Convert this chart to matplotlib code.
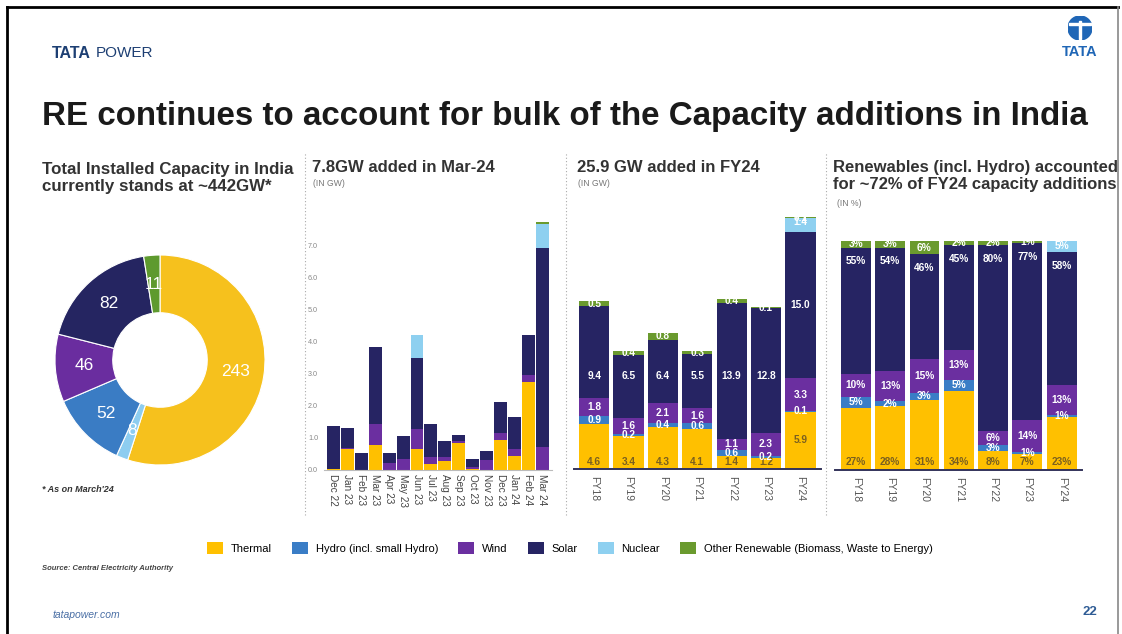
import matplotlib
matplotlib.use("Agg")
import matplotlib.pyplot as plt
from matplotlib.patches import Patch, Circle, Rectangle
from matplotlib.lines import Line2D
import numpy as np

plt.rcParams["font.family"] = ["Liberation Sans", "DejaVu Sans"]

W, H = 1122, 634

SOURCES = ["Thermal", "Hydro (incl. small Hydro)", "Wind", "Solar", "Nuclear",
           "Other Renewable (Biomass, Waste to Energy)"]
COLORS = ["#FFC000", "#3A7DC6", "#6B2FA0", "#262463", "#8ED0F0", "#6A9A2E"]

# installed capacity as on March'24 (GW), clockwise from the top
donut_labels = ["Thermal", "Nuclear", "Hydro", "Wind", "Solar", "Other"]
donut_values = [243, 8, 52, 46, 82, 11]
donut_colors = ["#F6C11D", "#8DCDF0", "#3A7CC4", "#6A2D9F", "#252561", "#5E9A2E"]

# monthly additions (GW)
months = ["Dec 22", "Jan 23", "Feb 23", "Mar 23", "Apr 23", "May 23", "Jun 23", "Jul 23",
          "Aug 23", "Sep 23", "Oct 23", "Nov 23", "Dec 23", "Jan 24", "Feb 24", "Mar 24"]
m_thermal = [0.03, 0.66, 0.0, 0.78, 0.0, 0.0, 0.65, 0.2, 0.29, 0.83, 0.02, 0.0, 0.95, 0.43, 2.76, 0.0]
m_hydro = [0.0] * 16
m_wind = [0.0, 0.02, 0.0, 0.65, 0.22, 0.33, 0.63, 0.2, 0.13, 0.08, 0.08, 0.32, 0.2, 0.22, 0.2, 0.71]
m_solar = [1.34, 0.62, 0.52, 2.4, 0.3, 0.73, 2.23, 1.04, 0.5, 0.18, 0.23, 0.27, 0.98, 0.99, 1.25, 6.21]
m_nuclear = [0.0, 0.0, 0.0, 0.0, 0.0, 0.0, 0.7, 0.0, 0.0, 0.0, 0.0, 0.0, 0.0, 0.0, 0.0, 0.75]
m_other = [0.0] * 15 + [0.08]

# yearly additions (GW)
years = ["FY18", "FY19", "FY20", "FY21", "FY22", "FY23", "FY24"]
y_thermal = [4.6, 3.4, 4.3, 4.1, 1.4, 1.2, 5.9]
y_hydro = [0.9, 0.2, 0.4, 0.6, 0.6, 0.2, 0.1]
y_wind = [1.8, 1.6, 2.1, 1.6, 1.1, 2.3, 3.3]
y_solar = [9.4, 6.5, 6.4, 5.5, 13.9, 12.8, 15.0]
y_nuclear = [0.0, 0.0, 0.0, 0.0, 0.0, 0.0, 1.4]
y_other = [0.5, 0.4, 0.8, 0.3, 0.4, 0.1, 0.1]

# share of yearly additions (%)
p_thermal = [27, 28, 31, 34, 8, 7, 23]
p_hydro = [5, 2, 3, 5, 3, 1, 1]
p_wind = [10, 13, 15, 13, 6, 14, 13]
p_solar = [55, 54, 46, 45, 80, 77, 58]
p_nuclear = [0, 0, 0, 0, 0, 0, 5]
p_other = [3, 3, 6, 2, 2, 1, 0]

DARK_LABEL = "#7A6020"


def px_axes(fig, left, top, right, bottom):
    return fig.add_axes([left / W, 1 - bottom / H, (right - left) / W, (bottom - top) / H])


def ftext(fig, x, y, s, **kw):
    fig.text(x / W, 1 - y / H, s, **kw)


def stack(ax, x, series, width):
    bottoms = np.zeros(len(x))
    segs = []
    for vals, color in zip(series, COLORS):
        vals = np.asarray(vals, dtype=float)
        ax.bar(x, vals, width, bottom=bottoms, color=color, linewidth=0)
        segs.append((bottoms.copy(), vals))
        bottoms = bottoms + vals
    return segs, bottoms


fig = plt.figure(figsize=(W / 100, H / 100), dpi=100)
fig.patch.set_facecolor("white")

# slide frame
fig.add_artist(Line2D([7 / W, 1118 / W], [1 - 7 / H, 1 - 7 / H], color="black", lw=2))
fig.add_artist(Line2D([7 / W, 7 / W], [0, 1 - 7 / H], color="black", lw=2))
fig.add_artist(Line2D([1118 / W, 1118 / W], [0, 1 - 7 / H], color="#888888", lw=1.2))

# header
ftext(fig, 52, 53, "TATA", fontsize=11.5, fontweight="bold", color="#1d3f73", va="center")
ftext(fig, 96, 53, "POWER", fontsize=11, color="#1d3f73", va="center")
logo = px_axes(fig, 1068, 16, 1092, 40)
logo.set_xlim(-1, 1)
logo.set_ylim(-1, 1)
logo.set_aspect("equal")
logo.axis("off")
logo.add_patch(Circle((0, 0), 1, color="#1f66b6"))
logo.add_patch(Rectangle((-0.12, -0.95), 0.24, 1.5, color="white"))
logo.add_patch(Rectangle((-0.9, 0.28), 1.8, 0.16, color="white"))
ftext(fig, 1080, 52, "TATA", fontsize=10.5, fontweight="bold", color="#1f66b6", ha="center", va="center")

ftext(fig, 42, 117, "RE continues to account for bulk of the Capacity additions in India",
      fontsize=23.85, fontweight="bold", color="#1a1a1a", va="center")

# panel titles
ftext(fig, 42, 178, "Total Installed Capacity in India\ncurrently stands at ~442GW*",
      fontsize=12.2, fontweight="bold", color="#333333", va="center", linespacing=1.1)
ftext(fig, 312, 168, "7.8GW added in Mar-24", fontsize=12, fontweight="bold", color="#333333", va="center")
ftext(fig, 313, 184, "(IN GW)", fontsize=6.2, color="#777777", va="center")
ftext(fig, 577, 168, "25.9 GW added in FY24", fontsize=12, fontweight="bold", color="#333333", va="center")
ftext(fig, 578, 184, "(IN GW)", fontsize=6.2, color="#777777", va="center")
ftext(fig, 833, 176, "Renewables (incl. Hydro) accounted\nfor ~72% of FY24 capacity additions",
      fontsize=12, fontweight="bold", color="#333333", va="center", linespacing=1.1)
ftext(fig, 837, 203, "(IN %)", fontsize=6.2, color="#777777", va="center")

# dotted separators
for xs in (305, 566, 826):
    fig.add_artist(Line2D([xs / W, xs / W], [1 - 515 / H, 1 - 152 / H], color="#aaaaaa",
                          lw=0.8, linestyle=(0, (1, 2))))

# donut
ax_d = px_axes(fig, 55, 255, 265, 465)
ax_d.pie(donut_values, colors=donut_colors, startangle=90, counterclock=False,
         radius=1, wedgeprops=dict(width=0.55, edgecolor="white", linewidth=0.8),
         autopct=lambda p: f"{p * sum(donut_values) / 100:.0f}", pctdistance=0.725,
         textprops=dict(color="white", fontsize=12.5))
ax_d.set_xlim(-1, 1)
ax_d.set_ylim(-1, 1)
ax_d.set_aspect("equal")
ftext(fig, 42, 490, "* As on March'24", fontsize=6.5, fontstyle="italic", fontweight="bold",
      color="#333333", va="center")

# monthly chart
ax_m = px_axes(fig, 323.7, 216.9, 552.1, 470)
xm = np.arange(len(months))
stack(ax_m, xm, [m_thermal, m_hydro, m_wind, m_solar, m_nuclear, m_other], 0.93)
ax_m.set_xlim(-0.7, len(months) - 0.3)
ax_m.set_ylim(0, 7.9)
ax_m.set_yticks(np.arange(0, 8))
ax_m.set_yticklabels([f"{v:.1f}" for v in range(8)])
ax_m.set_xticks(xm)
ax_m.set_xticklabels(months, rotation=270, fontsize=7.2, color="#444444")
ax_m.tick_params(axis="y", length=0, labelsize=5.2, labelcolor="#888888", pad=4)
ax_m.tick_params(axis="x", length=0, pad=3)
for s in ("top", "right", "left"):
    ax_m.spines[s].set_visible(False)
ax_m.spines["bottom"].set_color("#bbbbbb")
ax_m.spines["bottom"].set_linewidth(0.8)

# yearly chart (GW)
ax_y = px_axes(fig, 573.6, 210, 821, 469.3)
xy = np.arange(len(years))
segs, tops = stack(ax_y, xy, [y_thermal, y_hydro, y_wind, y_solar, y_nuclear, y_other], 0.88)
ax_y.set_xlim(-0.6, len(years) - 0.4)
ax_y.set_ylim(0, 26.54)
for k, (bot, vals) in enumerate(segs):
    for i in xy:
        v = vals[i]
        if v <= 0:
            continue
        yc = bot[i] + v / 2
        color = "white"
        if k == 0:
            color = DARK_LABEL
            yc = yc if v > 5 else 0.75
        if k == 3 and yc < 13:
            yc = 9.5
        if k == 4:
            yc = bot[i] + v * 0.7
        ax_y.text(i, yc, f"{v:.1f}", ha="center", va="center", fontsize=7.3,
                  fontweight="bold", color=color)

# yearly share chart (%)
ax_p = px_axes(fig, 835.3, 240.7, 1082.3, 470)
pseries = np.array([p_thermal, p_hydro, p_wind, p_solar, p_nuclear, p_other], dtype=float)
pnorm = pseries / pseries.sum(axis=0) * 100
psegs, _ = stack(ax_p, xy, pnorm, 0.87)
ax_p.set_xlim(-0.6, len(years) - 0.4)
ax_p.set_ylim(0, 100)
for k, (bot, vals) in enumerate(psegs):
    for i in xy:
        if pseries[k, i] <= 0:
            continue
        yc = bot[i] + vals[i] / 2
        color = "white"
        if k == 0:
            color = DARK_LABEL
            yc = 3.6
        if k == 3:
            yc = bot[i] + vals[i] - 6
        ax_p.text(i, yc, f"{pseries[k, i]:.0f}%", ha="center", va="center", fontsize=7.3,
                  fontweight="bold", color=color)

for ax in (ax_y, ax_p):
    ax.set_xticks(xy)
    ax.set_xticklabels(years, rotation=270, fontsize=7.5, color="#555555")
    ax.tick_params(axis="x", length=0, pad=5)
    ax.set_yticks([])
    for s in ("top", "right", "left"):
        ax.spines[s].set_visible(False)
    ax.spines["bottom"].set_color("#33335a")
    ax.spines["bottom"].set_linewidth(1.4)

# legend
handles = [Patch(facecolor=c, edgecolor="none") for c in COLORS]
fig.legend(handles, SOURCES, loc="center", bbox_to_anchor=(570 / W, 1 - 548 / H), ncol=6,
           frameon=False, fontsize=8, handlelength=1.45, handleheight=1.35,
           handletextpad=0.7, columnspacing=1.8)

# footer
ftext(fig, 42, 569, "Source: Central Electricity Authority", fontsize=5.5, fontstyle="italic",
      fontweight="bold", color="#444444", va="center")
ftext(fig, 53, 615, "tatapower.com", fontsize=7.5, fontstyle="italic", color="#4a6fa5", va="center")
ftext(fig, 1090, 612, "22", fontsize=9.5, fontweight="bold", color="#2f5c95", ha="center", va="center")

fig.savefig("out.png", dpi=100)
